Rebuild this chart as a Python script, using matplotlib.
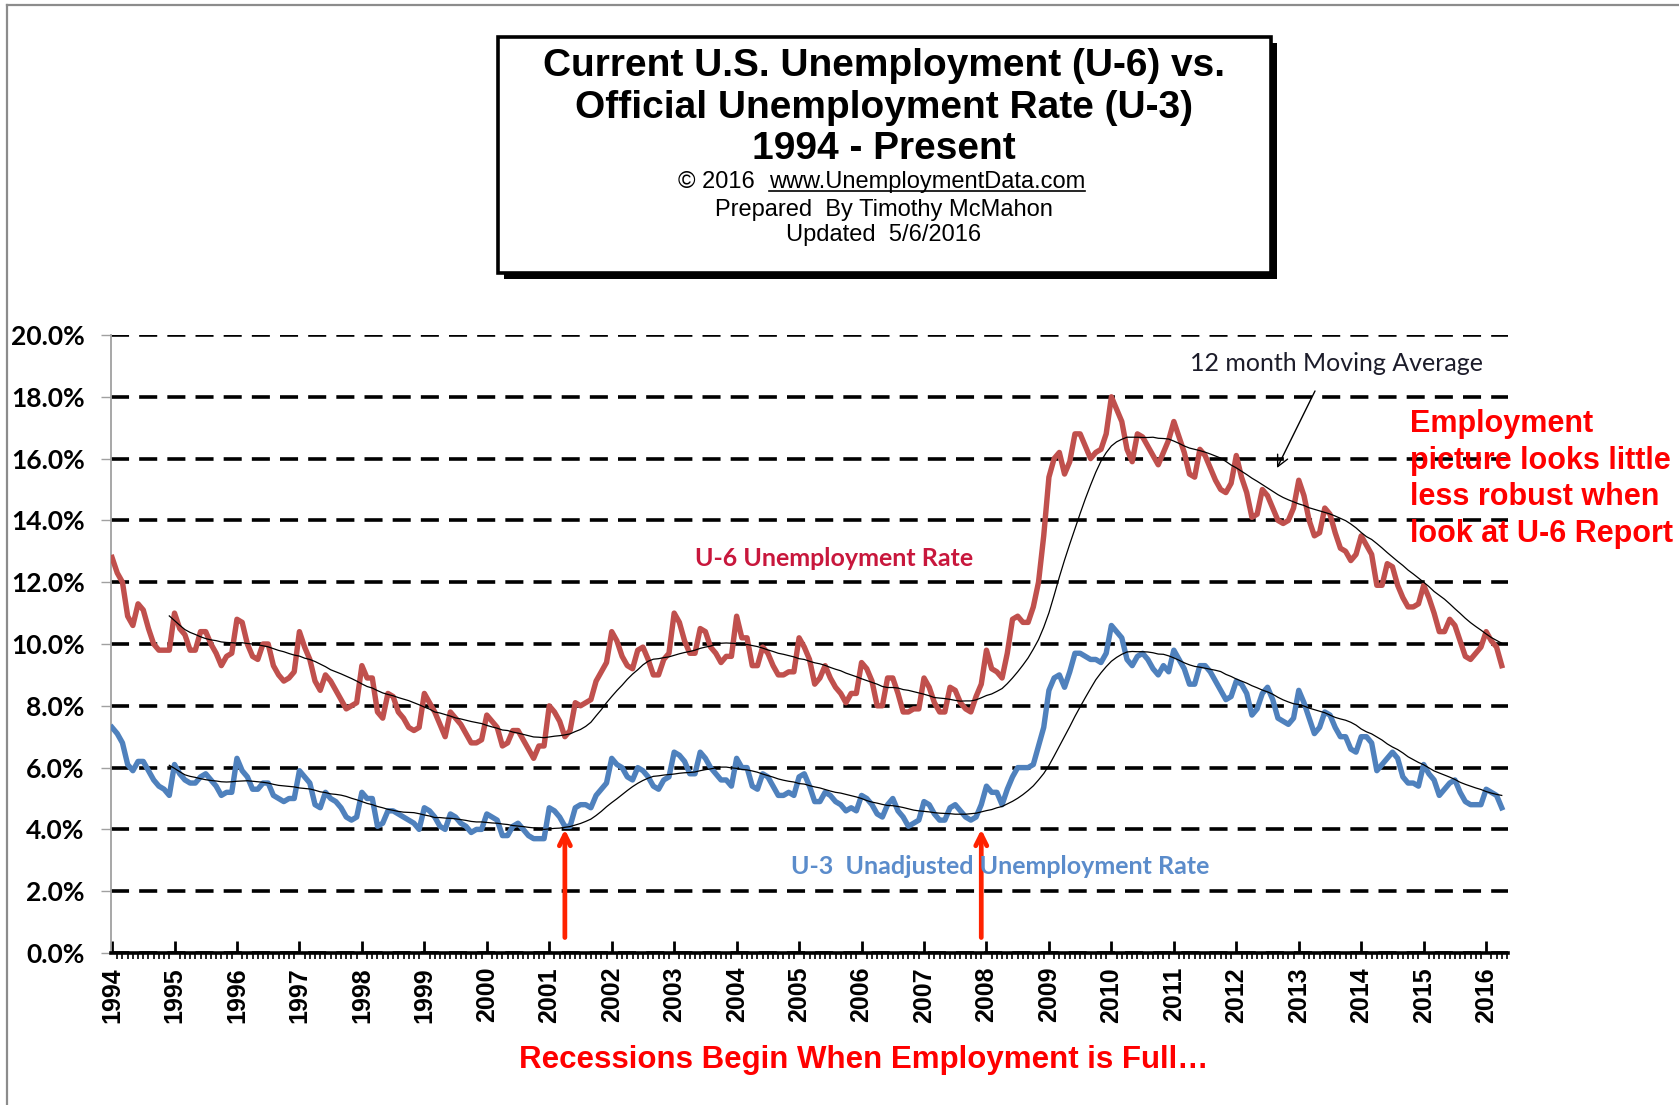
import numpy as np
import pandas as pd
import matplotlib
matplotlib.use('Agg')
import matplotlib.pyplot as plt
from matplotlib.patches import Rectangle
from matplotlib.lines import Line2D
from matplotlib.ticker import FixedLocator, MultipleLocator, FuncFormatter

# ---------------- data (monthly, Jan 1994 - Apr 2016, not seasonally adjusted) -------------
year_labels = [str(y) for y in range(1994, 2017)]

u6 = [
    12.8, 12.3, 12.0, 10.9, 10.6, 11.3, 11.1, 10.5, 10.0, 9.8, 9.8, 9.8,      # 1994
    11.0, 10.5, 10.3, 9.8, 9.8, 10.4, 10.4, 10.0, 9.7, 9.3, 9.6, 9.7,         # 1995
    10.8, 10.7, 10.0, 9.6, 9.5, 10.0, 10.0, 9.3, 9.0, 8.8, 8.9, 9.1,          # 1996
    10.4, 9.9, 9.5, 8.8, 8.5, 9.0, 8.8, 8.5, 8.2, 7.9, 8.0, 8.1,              # 1997
    9.3, 8.9, 8.9, 7.8, 7.6, 8.4, 8.3, 7.8, 7.6, 7.3, 7.2, 7.3,               # 1998
    8.4, 8.1, 7.8, 7.4, 7.0, 7.8, 7.6, 7.4, 7.1, 6.8, 6.8, 6.9,               # 1999
    7.7, 7.5, 7.3, 6.7, 6.8, 7.2, 7.2, 6.9, 6.6, 6.3, 6.7, 6.7,               # 2000
    8.0, 7.8, 7.5, 7.0, 7.2, 8.1, 8.0, 8.1, 8.2, 8.8, 9.1, 9.4,               # 2001
    10.4, 10.1, 9.6, 9.3, 9.2, 9.8, 9.9, 9.5, 9.0, 9.0, 9.5, 9.7,            # 2002
    11.0, 10.7, 10.1, 9.7, 9.7, 10.5, 10.4, 9.9, 9.7, 9.4, 9.6, 9.6,         # 2003
    10.9, 10.2, 10.2, 9.3, 9.3, 9.9, 9.7, 9.3, 9.0, 9.0, 9.1, 9.1,           # 2004
    10.2, 9.9, 9.5, 8.7, 8.9, 9.3, 8.9, 8.6, 8.4, 8.1, 8.4, 8.4,             # 2005
    9.4, 9.2, 8.8, 8.0, 8.0, 8.9, 8.9, 8.4, 7.8, 7.8, 7.9, 7.9,              # 2006
    8.9, 8.6, 8.1, 7.8, 7.8, 8.6, 8.5, 8.1, 7.9, 7.8, 8.3, 8.7,              # 2007
    9.8, 9.2, 9.1, 8.9, 9.7, 10.8, 10.9, 10.7, 10.7, 11.2, 12.0, 13.5,       # 2008
    15.4, 16.0, 16.2, 15.5, 15.9, 16.8, 16.8, 16.4, 16.0, 16.2, 16.3, 16.8,  # 2009
    18.0, 17.6, 17.2, 16.3, 15.9, 16.8, 16.7, 16.4, 16.1, 15.8, 16.2, 16.6,  # 2010
    17.2, 16.7, 16.2, 15.5, 15.4, 16.3, 16.1, 15.7, 15.3, 15.0, 14.9, 15.2,  # 2011
    16.1, 15.4, 14.9, 14.1, 14.2, 15.0, 14.8, 14.4, 14.0, 13.9, 14.0, 14.4,  # 2012
    15.3, 14.8, 14.0, 13.5, 13.6, 14.4, 14.2, 13.6, 13.1, 13.0, 12.7, 12.9,  # 2013
    13.5, 13.2, 12.9, 11.9, 11.9, 12.6, 12.5, 11.9, 11.5, 11.2, 11.2, 11.3,  # 2014
    11.9, 11.5, 11.0, 10.4, 10.4, 10.8, 10.6, 10.1, 9.6, 9.5, 9.7, 9.9,      # 2015
    10.4, 10.1, 9.9, 9.3,                                                      # 2016
]

u3 = [
    7.3, 7.1, 6.8, 6.1, 5.9, 6.2, 6.2, 5.9, 5.6, 5.4, 5.3, 5.1,    # 1994
    6.1, 5.8, 5.6, 5.5, 5.5, 5.7, 5.8, 5.6, 5.4, 5.1, 5.2, 5.2,    # 1995
    6.3, 5.9, 5.7, 5.3, 5.3, 5.5, 5.5, 5.1, 5.0, 4.9, 5.0, 5.0,    # 1996
    5.9, 5.7, 5.5, 4.8, 4.7, 5.2, 5.0, 4.9, 4.7, 4.4, 4.3, 4.4,    # 1997
    5.2, 5.0, 5.0, 4.1, 4.2, 4.6, 4.6, 4.5, 4.4, 4.3, 4.2, 4.0,    # 1998
    4.7, 4.6, 4.4, 4.1, 4.0, 4.5, 4.4, 4.2, 4.1, 3.9, 4.0, 4.0,    # 1999
    4.5, 4.4, 4.3, 3.8, 3.8, 4.1, 4.2, 4.0, 3.8, 3.7, 3.7, 3.7,    # 2000
    4.7, 4.6, 4.4, 4.1, 4.1, 4.7, 4.8, 4.8, 4.7, 5.1, 5.3, 5.5,    # 2001
    6.3, 6.1, 6.0, 5.7, 5.6, 6.0, 5.9, 5.7, 5.4, 5.3, 5.6, 5.7,    # 2002
    6.5, 6.4, 6.2, 5.8, 5.8, 6.5, 6.3, 6.0, 5.8, 5.6, 5.6, 5.4,    # 2003
    6.3, 6.0, 6.0, 5.4, 5.3, 5.8, 5.7, 5.4, 5.1, 5.1, 5.2, 5.1,    # 2004
    5.7, 5.8, 5.4, 4.9, 4.9, 5.2, 5.1, 4.9, 4.8, 4.6, 4.7, 4.6,    # 2005
    5.1, 5.0, 4.8, 4.5, 4.4, 4.8, 5.0, 4.6, 4.4, 4.1, 4.2, 4.3,    # 2006
    4.9, 4.8, 4.5, 4.3, 4.3, 4.7, 4.8, 4.6, 4.4, 4.3, 4.4, 4.8,    # 2007
    5.4, 5.2, 5.2, 4.8, 5.3, 5.7, 6.0, 6.0, 6.0, 6.1, 6.7, 7.3,    # 2008
    8.5, 8.9, 9.0, 8.6, 9.1, 9.7, 9.7, 9.6, 9.5, 9.5, 9.4, 9.7,    # 2009
    10.6, 10.4, 10.2, 9.5, 9.3, 9.6, 9.7, 9.5, 9.2, 9.0, 9.3, 9.1, # 2010
    9.8, 9.5, 9.2, 8.7, 8.7, 9.3, 9.3, 9.1, 8.8, 8.5, 8.2, 8.3,    # 2011
    8.8, 8.7, 8.4, 7.7, 7.9, 8.4, 8.6, 8.2, 7.6, 7.5, 7.4, 7.6,    # 2012
    8.5, 8.1, 7.6, 7.1, 7.3, 7.8, 7.7, 7.3, 7.0, 7.0, 6.6, 6.5,    # 2013
    7.0, 7.0, 6.8, 5.9, 6.1, 6.3, 6.5, 6.3, 5.7, 5.5, 5.5, 5.4,    # 2014
    6.1, 5.8, 5.6, 5.1, 5.3, 5.5, 5.6, 5.2, 4.9, 4.8, 4.8, 4.8,    # 2015
    5.3, 5.2, 5.1, 4.7,                                             # 2016
]

recession_starts = ['2001-04', '2007-12']
y_ticks = [0, 2, 4, 6, 8, 10, 12, 14, 16, 18, 20]

# ---------------- figure -------------
W, H = 1679, 1105
fig = plt.figure(figsize=(W / 100, H / 100), dpi=100)
fig.patch.set_facecolor('white')


def fx(px):
    return px / W


def fy(py):
    return 1 - py / H


SANS = ['Liberation Sans', 'DejaVu Sans']
CAL = ['Lato', 'DejaVu Sans']

months = pd.period_range('1994-01', periods=len(u6), freq='M')
x = np.arange(len(u6))
ma6 = pd.Series(u6).rolling(12).mean()
ma3 = pd.Series(u3).rolling(12).mean()

ax = fig.add_axes([fx(111), fy(953), fx(1508) - fx(111), fy(335) - fy(953)])
ax.set_facecolor('none')
ax.plot(x, u6, color='#C0504D', lw=3.9, solid_joinstyle='round', zorder=3)
ax.plot(x, u3, color='#4F81BD', lw=3.9, solid_joinstyle='round', zorder=3)
ax.plot(x, ma6, color='black', lw=0.9, zorder=4)
ax.plot(x, ma3, color='black', lw=0.9, zorder=4)

ax.set_xlim(-0.2, 268.2)
ax.set_ylim(0, 20)

# y axis
ax.yaxis.set_major_locator(FixedLocator(y_ticks))
ax.yaxis.set_major_formatter(FuncFormatter(lambda v, p: f'{v:.1f}%'))
ax.yaxis.grid(True, color='black', lw=2.6, linestyle=(0, (5, 2.8)))
ax.set_axisbelow(True)
ax.tick_params(axis='y', direction='out', length=7, width=1, color='#A0A0A0',
               pad=12, labelsize=19)
for lab in ax.get_yticklabels():
    lab.set_fontfamily(CAL)
    lab.set_fontweight('bold')

# x axis
year_pos = [months.get_loc(pd.Period(f'{y}-01', freq='M')) for y in year_labels]
ax.set_xticks(year_pos)
ax.set_xticklabels(year_labels, rotation=90, fontsize=18, fontweight='bold',
                   fontfamily=SANS, va='top', ha='center')
ax.xaxis.set_minor_locator(MultipleLocator(1))
ax.tick_params(axis='x', which='major', direction='in', length=9, width=2,
               color='black', pad=10)
ax.tick_params(axis='x', which='minor', direction='out', length=4, width=1.2,
               color='black')

for s in ['top', 'right']:
    ax.spines[s].set_visible(False)
ax.spines['left'].set_color('#A0A0A0')
ax.spines['left'].set_linewidth(1.3)
ax.spines['bottom'].set_color('black')
ax.spines['bottom'].set_linewidth(2.6)
ax.spines['bottom'].set_zorder(5)

# recession arrows
for r in recession_starts:
    xi = months.get_loc(pd.Period(r, freq='M'))
    ax.annotate('', xy=(xi, 4.0), xytext=(xi, 0.5),
                arrowprops=dict(arrowstyle='->,head_length=0.8,head_width=0.4',
                                color='#FF2200', lw=3.4, shrinkA=0, shrinkB=0),
                zorder=6)

# ---------------- annotations -------------
fig.text(fx(1337), fy(364), '12 month Moving Average', ha='center', va='center',
         fontsize=18, fontfamily=CAL, color='#1c1c2a')
ax.annotate('', xy=(fx(1277), fy(468)), xytext=(fx(1315), fy(391)),
            xycoords='figure fraction', textcoords='figure fraction',
            arrowprops=dict(arrowstyle='->,head_length=0.8,head_width=0.4',
                            color='black', lw=1.0, shrinkA=0, shrinkB=0))
fig.text(fx(834), fy(559), 'U-6 Unemployment Rate', ha='center', va='center',
         fontsize=18, fontweight='bold', fontfamily=CAL, color='#C8173C')
fig.text(fx(1000), fy(867), 'U-3  Unadjusted Unemployment Rate', ha='center',
         va='center', fontsize=18, fontweight='bold', fontfamily=CAL,
         color='#5B8CCB', zorder=1)
fig.text(fx(1410), fy(479), 'Employment\npicture looks little\nless robust when\nlook at U-6 Report',
         ha='left', va='center', fontsize=22, fontweight='bold', fontfamily=SANS,
         color='#FF0000', linespacing=1.28)
fig.text(fx(864), fy(1060), 'Recessions Begin When Employment is Full\u2026',
         ha='center', va='center', fontsize=22.5, fontweight='bold', fontfamily=SANS,
         color='#FF0000')

# ---------------- title box -------------
fig.add_artist(Rectangle((fx(504), fy(279)), fx(1277) - fx(504), fy(43) - fy(279),
                         transform=fig.transFigure, facecolor='black',
                         edgecolor='black', lw=0, zorder=1))
fig.add_artist(Rectangle((fx(498), fy(273)), fx(1271) - fx(498), fy(37) - fy(273),
                         transform=fig.transFigure, facecolor='white',
                         edgecolor='black', lw=2.6, zorder=2))
cx = fx(884)
for txt, yy in [('Current U.S. Unemployment (U-6) vs.', 66),
                ('Official Unemployment Rate (U-3)', 108),
                ('1994 - Present', 149)]:
    fig.text(cx, fy(yy), txt, ha='center', va='center', fontsize=28,
             fontweight='bold', fontfamily=SANS, color='black', zorder=3)
fig.text(fx(755), fy(182), '\u00a9 2016', ha='right', va='center', fontsize=17,
         fontfamily=SANS, color='black', zorder=3)
url = fig.text(fx(769), fy(182), 'www.UnemploymentData.com', ha='left', va='center',
               fontsize=17, fontfamily=SANS, color='black', zorder=3)
fig.text(cx, fy(210), 'Prepared  By Timothy McMahon', ha='center', va='center',
         fontsize=17, fontfamily=SANS, color='black', zorder=3)
fig.text(cx, fy(235), 'Updated  5/6/2016', ha='center', va='center',
         fontsize=17, fontfamily=SANS, color='black', zorder=3)

fig.canvas.draw()
bb = url.get_window_extent().transformed(fig.transFigure.inverted())
fig.add_artist(Line2D([bb.x0, bb.x1], [bb.y0 + 0.002, bb.y0 + 0.002],
                      transform=fig.transFigure, color='black', lw=1.2, zorder=3))

# outer frame lines
fig.add_artist(Line2D([fx(7), fx(7)], [fy(5), 0], transform=fig.transFigure,
                      color='#8C8C8C', lw=1.6))
fig.add_artist(Line2D([fx(7), 1], [fy(5), fy(5)], transform=fig.transFigure,
                      color='#8C8C8C', lw=1.6))

fig.savefig('out.png', dpi=100, facecolor='white')
